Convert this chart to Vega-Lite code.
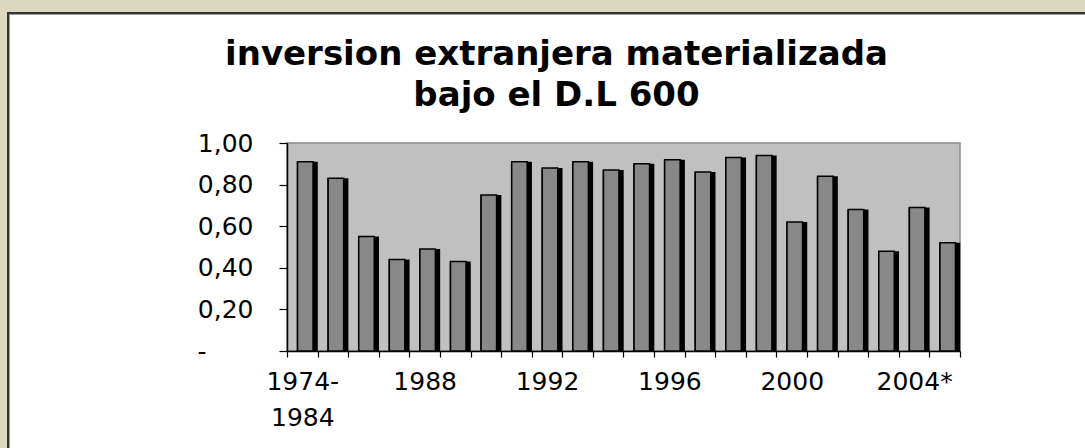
{
  "$schema": "https://vega.github.io/schema/vega-lite/v6.json",
  "background": "#ffffff",
  "padding": 0,
  "spacing": 0,
  "align": "each",
  "config": {"view": {"stroke": null}, "concat": {"spacing": 0}},
  "vconcat": [
    {"width": 1085, "height": 12, "data": {"values": []}, "mark": "point", "view": {"fill": "#dcd7bf", "stroke": null}},
    {"hconcat": [
      {"width": 7, "height": 2, "data": {"values": []}, "mark": "point", "view": {"fill": "#dcd7bf", "stroke": null}},
      {"width": 1078, "height": 2, "data": {"values": []}, "mark": "point", "view": {"fill": "#333333", "stroke": null}}
    ], "spacing": 0, "align": "each"},
    {"hconcat": [
      {"width": 7, "height": 1, "data": {"values": []}, "mark": "point", "view": {"fill": "#dcd7bf", "stroke": null}},
      {"width": 2, "height": 1, "data": {"values": []}, "mark": "point", "view": {"fill": "#333333", "stroke": null}},
      {"width": 1076, "height": 1, "data": {"values": []}, "mark": "point", "view": {"fill": "#a0a0a0", "stroke": null}}
    ], "spacing": 0, "align": "each"},
    {"hconcat": [
      {"width": 7, "height": 433, "data": {"values": []}, "mark": "point", "view": {"fill": "#dcd7bf", "stroke": null}},
      {"width": 2, "height": 433, "data": {"values": []}, "mark": "point", "view": {"fill": "#333333", "stroke": null}},
      {"width": 1, "height": 433, "data": {"values": []}, "mark": "point", "view": {"fill": "#a0a0a0", "stroke": null}},
      {"vconcat": [
        {"width": 10, "height": 22, "data": {"values": []}, "mark": "point", "view": {"fill": null, "stroke": null}},
        {
          "width": 673,
          "height": 208,
          "view": {"fill": "#c0c0c0", "stroke": "#8c8c8c", "strokeWidth": 1.5},
          "title": {
            "text": ["inversion extranjera materializada", "bajo el D.L 600"],
            "font": "DejaVu Sans",
            "fontSize": 34,
            "fontWeight": "bold",
            "lineHeight": 41,
            "color": "#000000",
            "anchor": "middle",
            "frame": "group",
            "dx": -67,
            "offset": 18
          },
          "data": {"values": [
            {"periodo": "1974-1984", "valor": 0.91},
            {"periodo": "1985", "valor": 0.83},
            {"periodo": "1986", "valor": 0.55},
            {"periodo": "1987", "valor": 0.44},
            {"periodo": "1988", "valor": 0.49},
            {"periodo": "1989", "valor": 0.43},
            {"periodo": "1990", "valor": 0.75},
            {"periodo": "1991", "valor": 0.91},
            {"periodo": "1992", "valor": 0.88},
            {"periodo": "1993", "valor": 0.91},
            {"periodo": "1994", "valor": 0.87},
            {"periodo": "1995", "valor": 0.90},
            {"periodo": "1996", "valor": 0.92},
            {"periodo": "1997", "valor": 0.86},
            {"periodo": "1998", "valor": 0.93},
            {"periodo": "1999", "valor": 0.94},
            {"periodo": "2000", "valor": 0.62},
            {"periodo": "2001", "valor": 0.84},
            {"periodo": "2002", "valor": 0.68},
            {"periodo": "2003", "valor": 0.48},
            {"periodo": "2004*", "valor": 0.69},
            {"periodo": "2005*", "valor": 0.52}
          ]},
          "encoding": {
            "x": {
              "field": "periodo", "type": "ordinal", "sort": null,
              "scale": {"paddingInner": 0, "paddingOuter": 0},
              "axis": {
                "title": null,
                "tickBand": "extent",
                "tickSize": 6,
                "tickColor": "#000000",
                "tickWidth": 1.2,
                "domainColor": "#000000",
                "domainWidth": 1.5,
                "labelAngle": 0,
                "labelFont": "DejaVu Sans",
                "labelFontSize": 25,
                "labelColor": "#000000",
                "labelPadding": 12,
                "labelLineHeight": 36,
                "labelOverlap": false,
                "labelBound": false,
                "labelFlush": false,
                "labelExpr": "datum.value == '1974-1984' ? ['1974-', '1984'] : (indexof(['1988','1992','1996','2000','2004*'], datum.value) >= 0 ? datum.value : '')"
              }
            },
            "y": {
              "field": "valor", "type": "quantitative",
              "scale": {"domain": [0, 1], "nice": false},
              "axis": {
                "title": null,
                "values": [0, 0.2, 0.4, 0.6, 0.8, 1],
                "grid": false,
                "tickSize": 8,
                "tickColor": "#000000",
                "tickWidth": 1.2,
                "domainColor": "#000000",
                "domainWidth": 1.5,
                "labelFont": "DejaVu Sans",
                "labelFontSize": 25,
                "labelColor": "#000000",
                "labelPadding": {"condition": {"test": "datum.value == 0", "value": 73}, "value": 26},
                "labelExpr": "datum.value == 0 ? '-' : replace(format(datum.value, '.2f'), '.', ',')",
                "minExtent": 276,
                "maxExtent": 276
              }
            }
          },
          "layer": [
            {"mark": {"type": "bar", "fill": "#000000", "size": 21, "xOffset": 5}},
            {"mark": {"type": "bar", "fill": "#888888", "stroke": "#000000", "strokeWidth": 1.5, "size": 15.5, "xOffset": 3}}
          ]
        }
      ], "spacing": 0, "align": "each"}
    ], "spacing": 0, "align": "each"}
  ]
}
